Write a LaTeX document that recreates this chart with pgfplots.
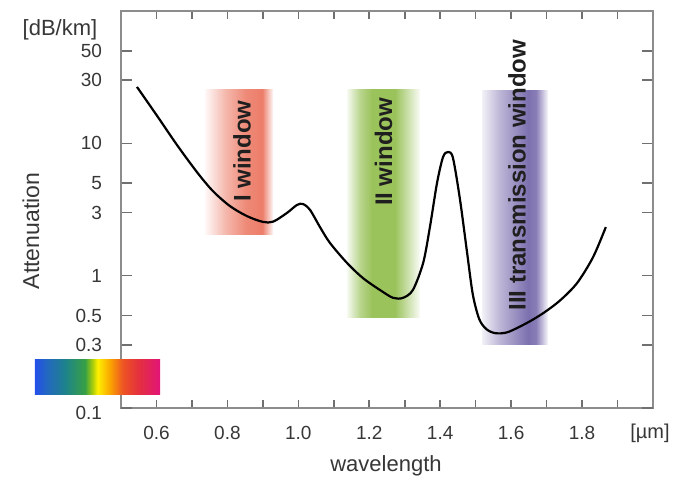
\documentclass[border=0pt]{standalone}
\usepackage{pgfplots}
\pgfplotsset{compat=1.18}
\usepackage{fontspec}
\setmainfont{Liberation Sans}
\definecolor{axgray}{RGB}{140,140,140}
\definecolor{txtgray}{RGB}{55,55,55}
\definecolor{bred}{RGB}{236,125,105}
\definecolor{bgreen}{RGB}{155,195,92}
\definecolor{bpurple}{RGB}{125,112,175}
\definecolor{s0}{RGB}{35,80,235}
\definecolor{s1}{RGB}{35,105,190}
\definecolor{s2}{RGB}{30,130,140}
\definecolor{s3}{RGB}{55,160,70}
\definecolor{s4}{RGB}{170,205,10}
\definecolor{s5}{RGB}{255,240,0}
\definecolor{s6}{RGB}{250,165,0}
\definecolor{s7}{RGB}{238,85,35}
\definecolor{s8}{RGB}{228,50,60}
\definecolor{s9}{RGB}{225,20,120}
\pgfdeclarehorizontalshading{spectrum}{100bp}{color(0bp)=(s0); color(25bp)=(s0); color(30bp)=(s1); color(37bp)=(s2); color(45bp)=(s3); color(48bp)=(s4); color(50bp)=(s5); color(55bp)=(s6); color(60bp)=(s7); color(66bp)=(s8); color(75bp)=(s9); color(100bp)=(s9)}
\pgfdeclarehorizontalshading{bandred}{100bp}{color(0bp)=(bred!5); color(25bp)=(bred!5); color(40bp)=(bred!55); color(55bp)=(bred!90); color(67bp)=(bred); color(75bp)=(bred!5); color(100bp)=(bred!5)}
\pgfdeclarehorizontalshading{bandgreen}{100bp}{color(0bp)=(bgreen!8); color(25bp)=(bgreen!8); color(34bp)=(bgreen!70); color(42bp)=(bgreen); color(58bp)=(bgreen); color(75bp)=(bgreen!5); color(100bp)=(bgreen!5)}
\pgfdeclarehorizontalshading{bandpurple}{100bp}{color(0bp)=(bpurple!10); color(25bp)=(bpurple!10); color(38bp)=(bpurple!50); color(60bp)=(bpurple); color(66bp)=(bpurple!90); color(75bp)=(bpurple!5); color(100bp)=(bpurple!5)}
\begin{document}
\begin{tikzpicture}
\begin{axis}[
  scale only axis, width=266bp, height=198.5bp,
  at={(0,0)}, anchor=south west,
  xmin=0.5, xmax=2.0, ymode=log, ymin=0.1, ymax=100,
  clip=false,
  xtick={0.6,0.7,0.8,0.9,1.0,1.1,1.2,1.3,1.4,1.5,1.6,1.7,1.8,1.9},
  xticklabels={0.6,,0.8,,1.0,,1.2,,1.4,,1.6,,1.8,},
  ytick={0.3,0.5,1,3,5,10,30,50},
  yticklabels={0.3,0.5,1,3,5,10,30,50},
  extra y ticks={0.1}, extra y tick labels={0.1},
  extra y tick style={yticklabel style={yshift=-2.5bp}, major tick length=0pt},
  minor tick num=0, minor y tick style={draw=none},
  tick align=inside,
  axis line style={axgray, line width=0.8bp},
  tick style={color=axgray!80!black, line width=0.8bp},
  xtick style={/pgfplots/major tick length=3.8bp},
  ytick style={/pgfplots/major tick length=5.5bp},
  ticklabel style={font=\fontsize{9.5bp}{11bp}\selectfont, text=txtgray},
  xticklabel style={yshift=-5.5bp},
  yticklabel style={xshift=-6bp},
]
\addplot[draw=none, shade, shading=bandred] coordinates {(0.737,2.03) (0.929,2.03) (0.929,25.3) (0.737,25.3)};
\addplot[draw=none, shade, shading=bandgreen] coordinates {(1.137,0.48) (1.343,0.48) (1.343,25.3) (1.137,25.3)};
\addplot[draw=none, shade, shading=bandpurple] coordinates {(1.518,0.30) (1.704,0.30) (1.704,24.9) (1.518,24.9)};
\addplot[black, line width=1.1bp, smooth, tension=0.5] coordinates {
(0.545,26.7) (0.602,16.1) (0.658,9.71) (0.714,6.07) (0.759,4.36)
(0.807,3.36) (0.855,2.82) (0.900,2.55) (0.929,2.56) (0.968,2.98) (0.996,3.42)
(1.013,3.48) (1.033,3.14) (1.061,2.33) (1.089,1.77) (1.137,1.25) (1.182,0.96)
(1.230,0.78) (1.267,0.68) (1.295,0.68) (1.323,0.78) (1.352,1.25) (1.371,2.33)
(1.391,5.01) (1.408,7.88) (1.422,8.60) (1.436,7.75) (1.456,3.73) (1.476,1.48)
(1.492,0.72) (1.510,0.47) (1.530,0.395) (1.555,0.368) (1.590,0.374) (1.645,0.44)
(1.690,0.52) (1.738,0.65) (1.786,0.88) (1.831,1.38) (1.867,2.33)};
\node[rotate=90, font=\bfseries\fontsize{12bp}{14bp}\selectfont, text=black!88] at (axis cs:0.841,8.75) {I window};
\node[rotate=90, font=\bfseries\fontsize{12bp}{14bp}\selectfont, text=black!88] at (axis cs:1.240,8.6) {II window};
\node[rotate=90, font=\bfseries\fontsize{12bp}{14bp}\selectfont, text=black!88] at (axis cs:1.617,5.76) {III transmission window};
\end{axis}
\shade[shading=spectrum] (-43bp,6.5bp) rectangle (19.5bp,24bp);
\node[font=\fontsize{11bp}{13bp}\selectfont, text=txtgray] at (-30.5bp,189bp) {[dB/km]};
\node[rotate=90, font=\fontsize{11.5bp}{13bp}\selectfont, text=txtgray] at (-45bp,88.5bp) {Attenuation};
\node[font=\fontsize{11bp}{13bp}\selectfont, text=txtgray] at (132.5bp,-29bp) {wavelength};
\node[font=\fontsize{10bp}{12bp}\selectfont, text=txtgray] at (264.5bp,-12.5bp) {[µm]};
\pgfresetboundingbox
\path (-60.5bp,-37.5bp) rectangle (278bp,204bp);
\end{tikzpicture}
\end{document}
